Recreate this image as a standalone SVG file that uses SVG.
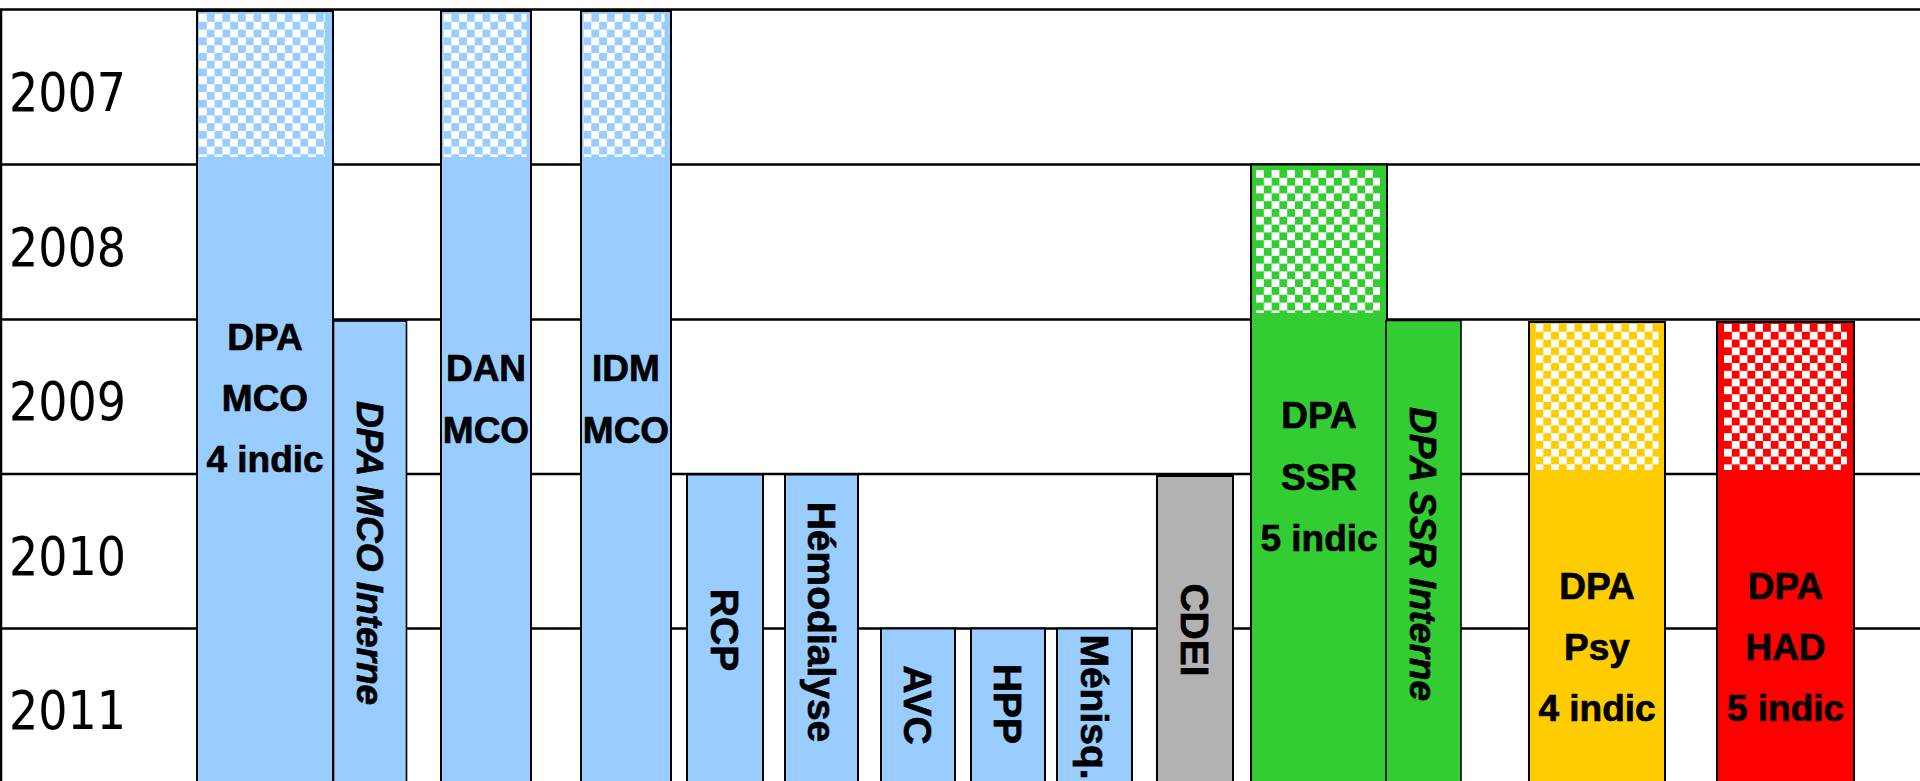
<svg xmlns="http://www.w3.org/2000/svg" width="1920" height="781" viewBox="0 0 1920 781">
  <style>
    .grid { stroke: #000; stroke-width: 2.5; }
    .bar { stroke: #000; stroke-width: 2; }
    .thin { stroke: #000; stroke-width: 1.6; }
    .blue { fill: #99CCFF; }
    .green { fill: #33CC33; }
    .yellow { fill: #FFCC00; }
    .red { fill: #FF0000; }
    .gray { fill: #B2B2B2; }
    .year { font-family: "DejaVu Sans Condensed", "DejaVu Sans", sans-serif; font-size: 54px; fill: #000; }
    .lbl { font-family: "Liberation Sans", Arial, sans-serif; font-weight: bold; font-size: 37px; fill: #000; stroke: #000; stroke-width: 0.7; text-anchor: middle; }
    .vlbl { font-family: "Liberation Sans", Arial, sans-serif; font-weight: bold; font-size: 39px; fill: #000; stroke: #000; stroke-width: 0.7; text-anchor: middle; }
    .vital { font-family: "Liberation Sans", Arial, sans-serif; font-weight: bold; font-style: italic; font-size: 37px; fill: #000; stroke: #000; stroke-width: 0.7; text-anchor: middle; }
  </style>
  <defs>
    <pattern id="chk-blue" width="15.6" height="15.6" patternUnits="userSpaceOnUse">
      <rect width="15.6" height="15.6" fill="#99CCFF"/>
      <rect width="7.8" height="7.8" fill="#fff"/>
      <rect x="7.8" y="7.8" width="7.8" height="7.8" fill="#fff"/>
    </pattern>
    <pattern id="chk-green" width="15.6" height="15.6" patternUnits="userSpaceOnUse">
      <rect width="15.6" height="15.6" fill="#33CC33"/>
      <rect width="7.8" height="7.8" fill="#fff"/>
      <rect x="7.8" y="7.8" width="7.8" height="7.8" fill="#fff"/>
    </pattern>
    <pattern id="chk-yellow" width="15.6" height="15.6" patternUnits="userSpaceOnUse">
      <rect width="15.6" height="15.6" fill="#FFCC00"/>
      <rect width="7.8" height="7.8" fill="#fff"/>
      <rect x="7.8" y="7.8" width="7.8" height="7.8" fill="#fff"/>
    </pattern>
    <pattern id="chk-red" width="15.6" height="15.6" patternUnits="userSpaceOnUse">
      <rect width="15.6" height="15.6" fill="#FF0000"/>
      <rect width="7.8" height="7.8" fill="#fff"/>
      <rect x="7.8" y="7.8" width="7.8" height="7.8" fill="#fff"/>
    </pattern>
  </defs>

  <rect width="1920" height="781" fill="#fff"/>

  <g id="grid">
    <line class="grid" x1="0" y1="9.5" x2="1920" y2="9.5" stroke-width="3"/>
    <line class="grid" x1="0" y1="164.5" x2="1920" y2="164.5"/>
    <line class="grid" x1="0" y1="319.5" x2="1920" y2="319.5"/>
    <line class="grid" x1="0" y1="474" x2="1920" y2="474"/>
    <line class="grid" x1="0" y1="628.5" x2="1920" y2="628.5"/>
    <line class="grid" x1="1" y1="9" x2="1" y2="781" stroke-width="2"/>
  </g>

  <g id="years">
    <text class="year" x="9" y="111" textLength="117" lengthAdjust="spacingAndGlyphs">2007</text>
    <text class="year" x="9" y="265.5" textLength="117" lengthAdjust="spacingAndGlyphs">2008</text>
    <text class="year" x="9" y="420" textLength="117" lengthAdjust="spacingAndGlyphs">2009</text>
    <text class="year" x="9" y="574.5" textLength="117" lengthAdjust="spacingAndGlyphs">2010</text>
    <text class="year" x="9" y="729" textLength="117" lengthAdjust="spacingAndGlyphs">2011</text>
  </g>

  <g id="connectors"></g>

  <g id="dpa-mco">
    <rect class="bar blue" x="197" y="11" width="136" height="800"/>
    <g transform="translate(199,14)"><rect width="126" height="143" fill="url(#chk-blue)"/></g>
    <text class="lbl" x="265" y="350">DPA</text>
    <text class="lbl" x="265" y="411">MCO</text>
    <text class="lbl" x="265" y="472">4 indic</text>
  </g>

  <g id="dpa-mco-interne">
    <rect class="thin blue" x="333.5" y="321" width="73" height="800"/>
    <text class="vital" transform="translate(357,553) rotate(90)">DPA MCO Interne</text>
  </g>

  <g id="dan-mco">
    <rect class="bar blue" x="441" y="11" width="90" height="800"/>
    <g transform="translate(443.5,14)"><rect width="83" height="143" fill="url(#chk-blue)"/></g>
    <text class="lbl" x="486" y="381">DAN</text>
    <text class="lbl" x="486" y="443">MCO</text>
  </g>

  <g id="idm-mco">
    <rect class="bar blue" x="581" y="11" width="90" height="800"/>
    <g transform="translate(583.5,14)"><rect width="81" height="143" fill="url(#chk-blue)"/></g>
    <text class="lbl" x="626" y="381">IDM</text>
    <text class="lbl" x="626" y="443">MCO</text>
  </g>

  <g id="rcp">
    <rect class="bar blue" x="687" y="474.5" width="76" height="800"/>
    <text class="vlbl" transform="translate(711,630) rotate(90)">RCP</text>
  </g>

  <g id="hemodialyse">
    <rect class="bar blue" x="785" y="474.5" width="73" height="800"/>
    <text class="vlbl" transform="translate(807.5,622) rotate(90)">Hémodialyse</text>
  </g>

  <g id="avc">
    <rect class="bar blue" x="881" y="628.5" width="74" height="800"/>
    <text class="vlbl" transform="translate(903.5,705) rotate(90)">AVC</text>
  </g>

  <g id="hpp">
    <rect class="bar blue" x="971" y="628.5" width="74" height="800"/>
    <text class="vlbl" transform="translate(994,704) rotate(90)">HPP</text>
  </g>

  <g id="menisq">
    <rect class="bar blue" x="1057" y="628.5" width="75" height="800"/>
    <text class="vlbl" transform="translate(1081,707) rotate(90)">Ménisq.</text>
  </g>

  <g id="cdei">
    <rect class="bar gray" x="1157" y="476" width="76" height="800"/>
    <text class="vlbl" transform="translate(1181,630) rotate(90)">CDEI</text>
  </g>

  <g id="dpa-ssr">
    <rect class="bar green" x="1251" y="164.5" width="136" height="800"/>
    <g transform="translate(1256,170)"><rect width="124" height="143" fill="url(#chk-green)"/></g>
    <text class="lbl" x="1319" y="428">DPA</text>
    <text class="lbl" x="1319" y="490">SSR</text>
    <text class="lbl" x="1319" y="551">5 indic</text>
  </g>

  <g id="dpa-ssr-interne">
    <rect class="thin green" x="1386" y="320.5" width="75" height="800"/>
    <text class="vital" transform="translate(1410,554) rotate(90)">DPA SSR Interne</text>
  </g>

  <g id="dpa-psy">
    <rect class="bar yellow" x="1529" y="322" width="136" height="800"/>
    <g transform="translate(1535.5,324)"><rect width="123" height="146" fill="url(#chk-yellow)"/></g>
    <text class="lbl" x="1597" y="599">DPA</text>
    <text class="lbl" x="1597" y="660">Psy</text>
    <text class="lbl" x="1597" y="721">4 indic</text>
  </g>

  <g id="dpa-had">
    <rect class="bar red" x="1717" y="322" width="137" height="800"/>
    <g transform="translate(1724,324)"><rect width="123" height="146" fill="url(#chk-red)"/></g>
    <text class="lbl" x="1785.5" y="599">DPA</text>
    <text class="lbl" x="1785.5" y="660">HAD</text>
    <text class="lbl" x="1785.5" y="721">5 indic</text>
  </g>
</svg>
